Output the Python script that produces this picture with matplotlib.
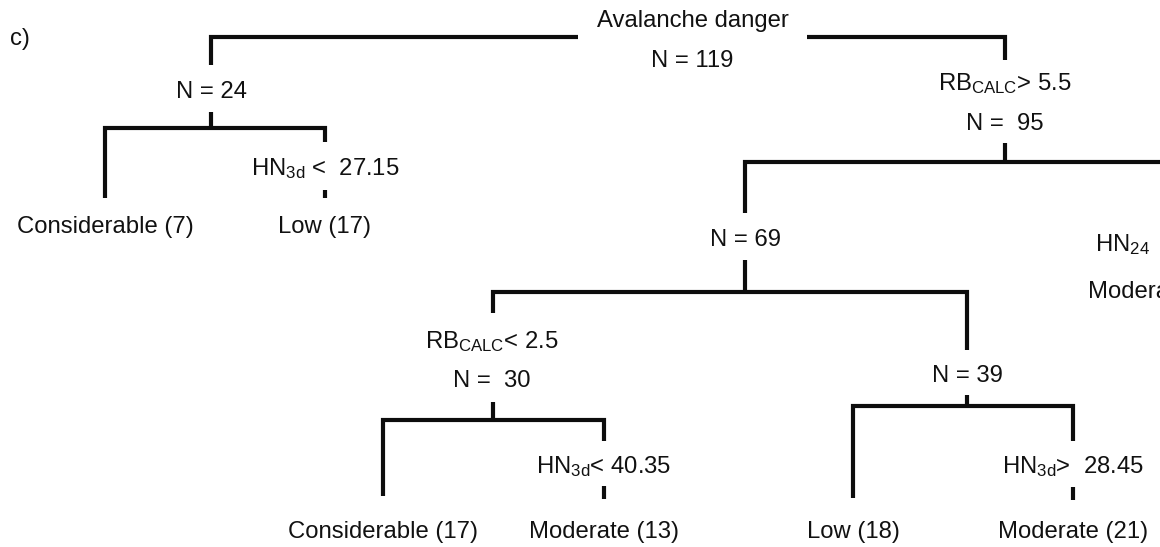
import matplotlib
matplotlib.use("Agg")
import matplotlib.pyplot as plt

plt.rcParams['font.family'] = ['Liberation Sans', 'DejaVu Sans']
plt.rcParams['mathtext.fontset'] = 'custom'
plt.rcParams['mathtext.rm'] = 'Liberation Sans'
plt.rcParams['mathtext.it'] = 'Liberation Sans'

# ---------------- data ----------------
panel_label = "c)"
root_title = "Avalanche danger"
node_names = ["root", "L", "R", "RL", "RLL", "RLR"]
node_counts = [119, 24, 95, 69, 30, 39]
split_texts = {
    "L_right": r"HN$_{\rm 3d}$ <  27.15",
    "R": r"RB$_{\rm CALC}$> 5.5",
    "RLL": r"RB$_{\rm CALC}$< 2.5",
    "RLL_right": r"HN$_{\rm 3d}$< 40.35",
    "RLR_right": r"HN$_{\rm 3d}$>  28.45",
    "RR": r"HN$_{\rm 24}$",
}
leaf_classes = ["Considerable", "Low", "Considerable", "Moderate", "Low", "Moderate"]
leaf_counts = [7, 17, 17, 13, 18, 21]
cut_leaf_class = "Moderate"

# ---------------- layout (pixel frame) ----------------
W, H = 1160, 547
fig = plt.figure(figsize=(W / 100, H / 100), dpi=100)
ax = fig.add_axes([0, 0, 1, 1])
ax.set_xlim(0, W)
ax.set_ylim(H, 0)
ax.axis('off')

LW = 3.0
COL = '#0d0d0d'
TCOL = '#111111'
FS = 17.2

def seg(xs, ys):
    ax.plot(xs, ys, color=COL, lw=LW, solid_capstyle='butt',
            solid_joinstyle='miter', clip_on=True)

def txt(x, y, s, ha='center'):
    ax.text(x, y, s, ha=ha, va='baseline', fontsize=FS, color=TCOL)

cnt = dict(zip(node_names, node_counts))

# panel label
txt(10, 45, panel_label, ha='left')

# root
txt(693, 27, root_title)
txt(692, 67, f"N = {cnt['root']}")
seg([211, 211, 578], [65, 37, 37])
seg([807, 1005, 1005], [37, 37, 60])

# left node (N=24)
txt(211, 98, f"N = {cnt['L']}")
seg([211, 211], [112, 128])
seg([105, 105, 325, 325], [198, 128, 128, 142])
txt(325, 175, split_texts["L_right"])
seg([325, 325], [190, 198])
txt(105, 233, f"{leaf_classes[0]} ({leaf_counts[0]})")
txt(325, 233, f"{leaf_classes[1]} ({leaf_counts[1]})")

# right node (N=95)
txt(1005, 90, split_texts["R"])
txt(1005, 130, f"N =  {cnt['R']}")
seg([1005, 1005], [143, 162])
seg([745, 745, W + 10], [213, 162, 162])
txt(1095, 251, split_texts["RR"], ha='left')
txt(1088, 298, cut_leaf_class, ha='left')

# node N=69
txt(745, 246, f"N = {cnt['RL']}")
seg([745, 745], [260, 292])
seg([493, 493, 967, 967], [313, 292, 292, 350])

# node N=30
txt(492, 348, split_texts["RLL"])
txt(492, 387, f"N =  {cnt['RLL']}")
seg([493, 493], [402, 420])
seg([383, 383, 604, 604], [496, 420, 420, 441])
txt(604, 473, split_texts["RLL_right"])
seg([604, 604], [486, 499])
txt(383, 538, f"{leaf_classes[2]} ({leaf_counts[2]})")
txt(604, 538, f"{leaf_classes[3]} ({leaf_counts[3]})")

# node N=39
txt(967, 382, f"N = {cnt['RLR']}")
seg([967, 967], [395, 406])
seg([853, 853, 1073, 1073], [498, 406, 406, 441])
txt(1073, 473, split_texts["RLR_right"])
seg([1073, 1073], [487, 500])
txt(853, 538, f"{leaf_classes[4]} ({leaf_counts[4]})")
txt(1073, 538, f"{leaf_classes[5]} ({leaf_counts[5]})")

fig.savefig("out.png", dpi=100, facecolor='white')
